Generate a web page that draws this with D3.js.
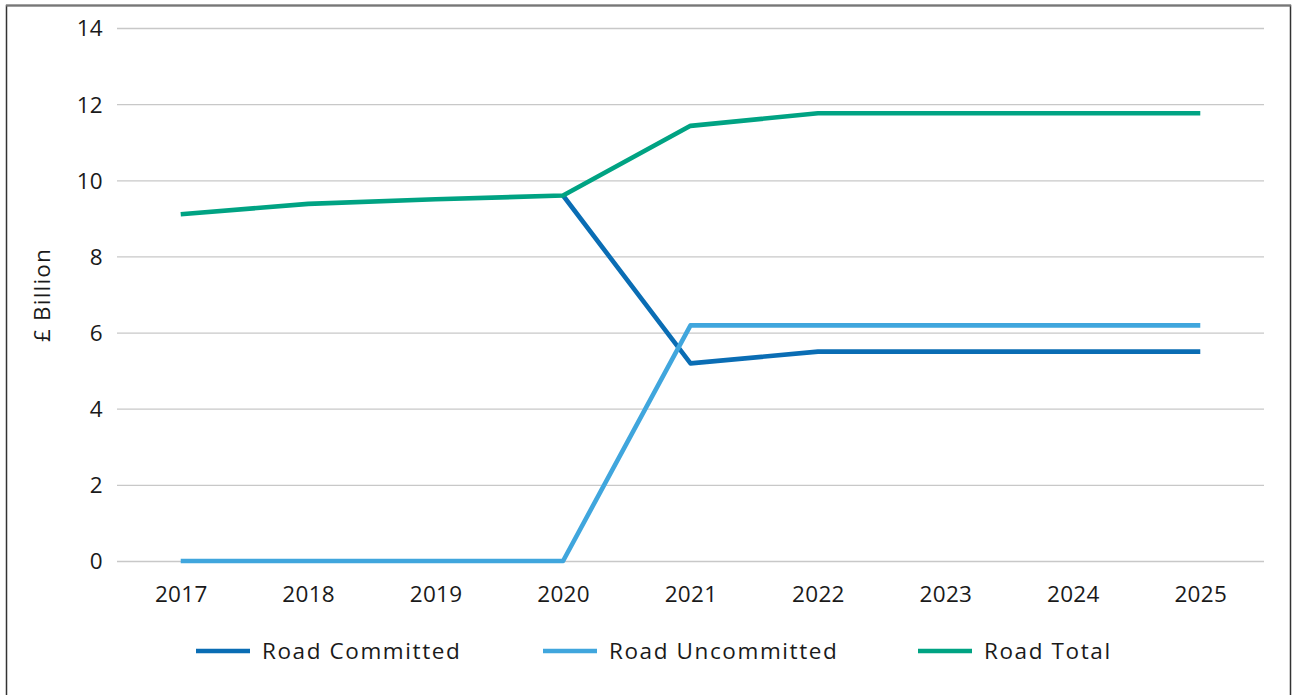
<!DOCTYPE html>
<html><head><meta charset="utf-8">
<script src="https://cdn.jsdelivr.net/npm/d3@7"></script>
<style>body{margin:0;background:#fff;}svg{display:block;font-family:"Open Sans",sans-serif;}</style>
</head><body><svg id="c" width="1292" height="695"></svg>
<script>
const years = ["2017","2018","2019","2020","2021","2022","2023","2024","2025"];
const roadCommitted = [null,null,null,9.6,5.19,5.5,5.5,5.5,5.5];
const roadUncommitted = [0,0,0,0,6.19,6.19,6.19,6.19,6.19];
const roadTotal = [9.11,9.38,9.5,9.6,11.43,11.76,11.76,11.76,11.76];
const yTicks = [0,2,4,6,8,10,12,14];
const seriesNames = ["Road Committed","Road Uncommitted","Road Total"];
const colors = ["#0a6db4","#40a6dd","#00a383"];

const svg = d3.select("#c");
svg.append("rect").attr("x",6.5).attr("y",5.5).attr("width",1284).attr("height",700)
  .attr("fill","none").attr("stroke","#333").attr("stroke-width",1.5);
svg.append("line").attr("x1",6).attr("x2",1291).attr("y1",5.5).attr("y2",5.5).attr("stroke","#777").attr("stroke-width",2);

const x = d3.scalePoint().domain(years).range([117,1264]).padding(0.5);
const y = d3.scaleLinear().domain([0,14]).range([561,28]);

const yAxis = svg.append("g").attr("transform","translate(117,0)")
  .call(d3.axisLeft(y).tickValues(yTicks).tickSize(-1147).tickPadding(14));
yAxis.select(".domain").remove();
yAxis.selectAll(".tick line").attr("stroke","#c8c8c8").attr("stroke-width",1.3);
yAxis.selectAll(".tick text").attr("font-size",22.5).attr("fill","#1a1a1a").attr("font-family","Open Sans")
  .attr("letter-spacing",0.3).attr("dy","0.35em");

const xAxis = svg.append("g").attr("transform","translate(0,561)")
  .call(d3.axisBottom(x).tickSize(0));
xAxis.select(".domain").remove();
xAxis.selectAll(".tick text").attr("font-size",22.5).attr("fill","#1a1a1a").attr("font-family","Open Sans")
  .attr("letter-spacing",0.3).attr("y",41).attr("dy",0);

svg.append("text").attr("transform","translate(50,295) rotate(-90)").attr("text-anchor","middle")
  .attr("font-size",22.5).attr("letter-spacing",1.2).attr("fill","#1a1a1a").text("£ Billion");

const data = [roadCommitted, roadUncommitted, roadTotal];
const line = d3.line().defined(d=>d.v!==null).x(d=>x(d.k)).y(d=>y(d.v));
data.forEach((arr,i)=>{
  svg.append("path").datum(arr.map((v,j)=>({k:years[j],v})))
    .attr("fill","none").attr("stroke",colors[i]).attr("stroke-width",4.6)
    .attr("stroke-linejoin","round").attr("d",line);
});

const legX = [196,543,918];
seriesNames.forEach((n,i)=>{
  svg.append("line").attr("x1",legX[i]).attr("x2",legX[i]+54).attr("y1",651).attr("y2",651)
    .attr("stroke",colors[i]).attr("stroke-width",4.6);
  svg.append("text").attr("x",legX[i]+66).attr("y",659).attr("font-size",22.5).attr("letter-spacing",1.6)
    .attr("fill","#1a1a1a").text(n);
});
</script></body></html>
